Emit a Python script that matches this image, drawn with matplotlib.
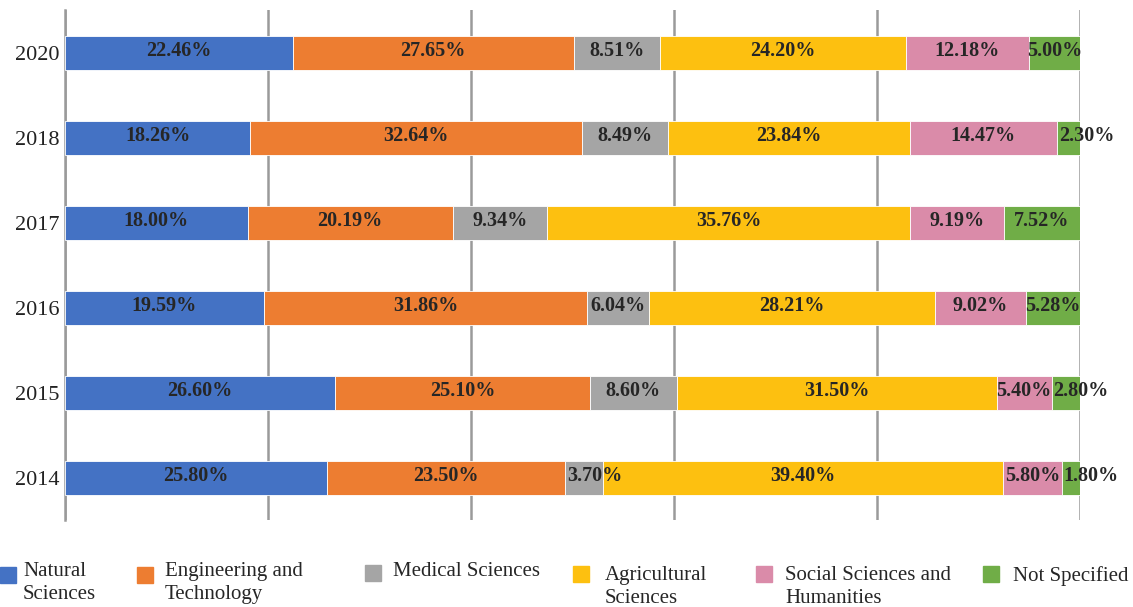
import matplotlib
matplotlib.use("Agg")
import matplotlib.pyplot as plt
from matplotlib.patches import Rectangle
import numpy as np

years = ["2014", "2015", "2016", "2017", "2018", "2020"]
categories = ["Natural\nSciences", "Engineering and\nTechnology", "Medical Sciences",
              "Agricultural\nSciences", "Social Sciences and\nHumanities", "Not Specified"]
natural = [25.80, 26.60, 19.59, 18.00, 18.26, 22.46]
engineering = [23.50, 25.10, 31.86, 20.19, 32.64, 27.65]
medical = [3.70, 8.60, 6.04, 9.34, 8.49, 8.51]
agricultural = [39.40, 31.50, 28.21, 35.76, 23.84, 24.20]
social = [5.80, 5.40, 9.02, 9.19, 14.47, 12.18]
not_specified = [1.80, 2.80, 5.28, 7.52, 2.30, 5.00]

series = [natural, engineering, medical, agricultural, social, not_specified]
colors = ["#4472C4", "#ED7D31", "#A5A5A5", "#FDC010", "#DA8BA9", "#70AD47"]

plt.rcParams['font.family'] = ['Liberation Serif', 'DejaVu Serif']

fig = plt.figure(figsize=(11.33, 6.07), dpi=100)
ax = fig.add_axes([0.0574, 0.1433, 0.8958, 0.8402])

y = np.arange(len(years))
left = np.zeros(len(years))
for vals, col in zip(series, colors):
    vals = np.array(vals)
    ax.barh(y, vals, left=left, height=0.4, color=col, edgecolor='white', linewidth=0.6, zorder=3)
    for yi, l, v in zip(y, left, vals):
        lab = f"{v:.2f}%"
        if v < 4:
            ax.text(l + 0.2, yi + 0.02, lab, ha='left', va='center', fontsize=14.5,
                    fontweight='bold', color='#262626', zorder=4)
        else:
            ax.text(l + v / 2, yi + 0.02, lab, ha='center', va='center', fontsize=14.5,
                    fontweight='bold', color='#262626', zorder=4)
    left += vals

ax.set_xlim(0, 100)
ax.set_ylim(-0.5, 5.5)
ax.set_xticks([0, 20, 40, 60, 80, 100])
ax.set_xticklabels([])
ax.tick_params(axis='x', length=0)
ax.xaxis.grid(True, color='#9a9a9a', linewidth=1.8, zorder=0)
ax.set_yticks(y)
ax.set_yticklabels(years, fontsize=16, color='#222222')
ax.tick_params(axis='y', length=0, pad=4)
for s in ['top', 'right', 'bottom']:
    ax.spines[s].set_visible(False)
ax.spines['left'].set_color('#9a9a9a')
ax.spines['left'].set_linewidth(1.8)
ax.set_axisbelow(True)

# legend drawn manually
W, H = 1133.0, 607.0
leg_items = [
    (0, 567, 23, 562),
    (137, 567, 165, 562),
    (365, 565, 393, 562),
    (573, 566, 605, 566),
    (756, 566, 785, 566),
    (983, 566, 1013, 566),
]
for (mx, my, tx, ty), lab, col in zip(leg_items, categories, colors):
    fig.add_artist(Rectangle((mx / W, 1 - (my + 16) / H), 16 / W, 16 / H,
                             transform=fig.transFigure, color=col))
    fig.text(tx / W, 1 - ty / H, lab, ha='left', va='top', fontsize=15,
             color='#262626', linespacing=1.3)

fig.savefig("out.png", dpi=100, facecolor='white')
